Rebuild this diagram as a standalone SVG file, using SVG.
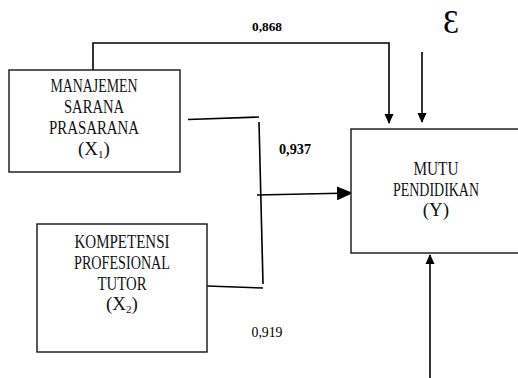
<svg xmlns="http://www.w3.org/2000/svg" width="518" height="378" viewBox="0 0 518 378">
<style>
.box{fill:#fff;stroke:#222;stroke-width:1.5}
.ln{fill:none;stroke:#000;stroke-width:1.6}
.t{font-family:"Liberation Serif","Times New Roman",serif;font-size:19px;fill:#111;text-anchor:middle}
.lb{font-family:"Liberation Serif","Times New Roman",serif;fill:#000;text-anchor:middle}
</style>
<defs>
<marker id="ah" markerWidth="10" markerHeight="10" refX="9" refY="5" orient="auto" markerUnits="userSpaceOnUse">
<path d="M0,0.5 L10,5 L0,9.5 Z" fill="#000"/>
</marker>
<marker id="ahb" markerWidth="16" markerHeight="14" refX="15" refY="7" orient="auto" markerUnits="userSpaceOnUse">
<path d="M0,0 L16,7 L0,14 Z" fill="#000"/>
</marker>
</defs>
<g id="connectors">
<polyline class="ln" points="93,70 93,43 389,43 389,123" marker-end="url(#ah)"/>
<line class="ln" x1="422" y1="52" x2="422" y2="122" marker-end="url(#ah)"/>
<line class="ln" x1="188" y1="119.5" x2="259" y2="117"/>
<line class="ln" x1="259" y1="122" x2="263" y2="284"/>
<line class="ln" x1="207" y1="286" x2="263" y2="288"/>
<line class="ln" x1="257" y1="195" x2="352" y2="193" marker-end="url(#ahb)"/>
<line class="ln" x1="430" y1="378" x2="430" y2="255" marker-end="url(#ah)"/>
</g>
<g id="x1">
<rect class="box" x="9" y="70" width="171" height="102"/>
<text class="t" x="94" y="92" textLength="87" lengthAdjust="spacingAndGlyphs">MANAJEMEN</text>
<text class="t" x="94" y="113" textLength="60" lengthAdjust="spacingAndGlyphs">SARANA</text>
<text class="t" x="94" y="134" textLength="90" lengthAdjust="spacingAndGlyphs">PRASARANA</text>
<text class="t" x="94" y="155">(X<tspan font-size="11" dy="3">1</tspan><tspan dy="-3">)</tspan></text>
</g>
<g id="x2">
<rect class="box" x="37" y="224" width="170" height="128"/>
<text class="t" x="122" y="248" textLength="95" lengthAdjust="spacingAndGlyphs">KOMPETENSI</text>
<text class="t" x="122" y="269" textLength="96" lengthAdjust="spacingAndGlyphs">PROFESIONAL</text>
<text class="t" x="122" y="290" textLength="49" lengthAdjust="spacingAndGlyphs">TUTOR</text>
<text class="t" x="122" y="310">(X<tspan font-size="11" dy="3">2</tspan><tspan dy="-3">)</tspan></text>
</g>
<g id="y">
<rect class="box" x="351" y="129" width="175" height="124"/>
<text class="t" x="436" y="175" textLength="45" lengthAdjust="spacingAndGlyphs">MUTU</text>
<text class="t" x="436" y="196" textLength="86" lengthAdjust="spacingAndGlyphs">PENDIDIKAN</text>
<text class="t" x="436" y="216">(Y)</text>
</g>
<g id="labels">
<text class="lb" x="267" y="31" font-size="13" font-weight="bold" textLength="30" lengthAdjust="spacingAndGlyphs">0,868</text>
<text class="lb" x="295" y="154" font-size="14" font-weight="bold" textLength="32" lengthAdjust="spacingAndGlyphs">0,937</text>
<text class="lb" x="267" y="337" font-size="14" textLength="31" lengthAdjust="spacingAndGlyphs">0,919</text>
<text class="lb" x="451" y="33" font-size="34" textLength="16" lengthAdjust="spacingAndGlyphs">Ɛ</text>
</g>
</svg>
